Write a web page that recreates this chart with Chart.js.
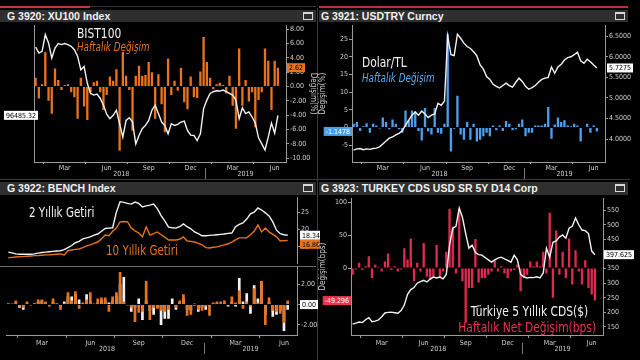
<!DOCTYPE html>
<html>
<head>
<meta charset="utf-8">
<script src="https://cdn.jsdelivr.net/npm/chart.js@4.4.1/dist/chart.umd.min.js"></script>
<style>
  html, body { margin: 0; padding: 0; background: #000; }
  #wrap { position: relative; width: 640px; height: 360px; overflow: hidden; background: #000;
          font-family: 'Liberation Sans Narrow', 'DejaVu Sans Condensed', 'Liberation Sans', sans-serif; }
  canvas { position: absolute; }
  .hdr { position: absolute; height: 12px; background: #2f2f2f; color: #f0f0f0; white-space: nowrap;
         font: bold 10.5px 'Liberation Sans', Arial, sans-serif; line-height: 12px; box-sizing: border-box; }
  .hdr .ico { position: absolute; right: 3px; top: 2px; width: 8px; height: 5px; border: 1px solid #d8d8d8; border-top-width: 2px; }
  .lbl { position: absolute; white-space: nowrap; line-height: 1; transform: translateY(-50%) scaleX(0.85);
         transform-origin: left center; z-index: 5; }
  .lbl.r { transform-origin: right center; }
  .bar { position: absolute; }
</style>
</head>
<body>
<div id="wrap">
  <div class="bar" style="left:0;top:6px;width:90px;height:2px;background:#c23a3a"></div>
  <div class="bar" style="left:90px;top:6px;width:226px;height:1px;background:#333"></div>
  <div class="bar" style="left:319px;top:6px;width:309px;height:2px;background:#b8323e"></div>
  <div class="bar" style="left:317px;top:8px;width:1px;height:352px;background:#3a3a3a"></div>
  <div class="bar" style="left:0;top:179px;width:630px;height:1px;background:#3a3a3a"></div>
  <div class="bar" style="left:0;top:266px;width:316px;height:1px;background:#6a6a6a"></div>

  <div class="hdr" style="left:0;top:10px;width:316px;padding-left:7px">G 3920: XU100 Index<span class="ico"></span></div>
  <div class="hdr" style="left:319px;top:10px;width:309px;padding-left:2px">G 3921: USDTRY Curncy<span class="ico"></span></div>
  <div class="hdr" style="left:0;top:182px;width:316px;height:13px;line-height:13px;padding-left:7px">G 3922: BENCH Index<span class="ico"></span></div>
  <div class="hdr" style="left:319px;top:182px;width:309px;height:13px;line-height:13px;padding-left:2px">G 3923: TURKEY CDS USD SR 5Y D14 Corp<span class="ico"></span></div>

  <canvas id="c1" width="318" height="160" style="left:0;top:20px"></canvas>
  <canvas id="c2" width="322" height="160" style="left:318px;top:20px"></canvas>
  <canvas id="c3a" width="320" height="77" style="left:0;top:192px"></canvas>
  <canvas id="c3b" width="320" height="98" style="left:0;top:262px"></canvas>
  <canvas id="c4" width="322" height="167" style="left:318px;top:193px"></canvas>

  <div class="lbl" style="left:77px;top:33px;font-size:14px;color:#f4f4f4">BIST100</div>
  <div class="lbl" style="left:77px;top:48px;font-size:11.5px;font-style:italic;color:#e8731c">Haftalık Değişim</div>
  <div class="lbl" style="left:362px;top:62px;font-size:14px;color:#f4f4f4">Dolar/TL</div>
  <div class="lbl" style="left:362px;top:79px;font-size:11.5px;font-style:italic;color:#5aa8f0">Haftalık Değişim</div>
  <div class="lbl" style="left:29px;top:213px;font-size:13.5px;color:#f4f4f4">2 Yıllık Getiri</div>
  <div class="lbl" style="left:106px;top:251px;font-size:13.5px;color:#e8731c">10 Yıllık Getiri</div>
  <div class="lbl r" style="right:52px;top:311px;font-size:14px;color:#f4f4f4">Türkiye 5 Yıllık CDS($)</div>
  <div class="lbl r" style="right:44px;top:327px;font-size:14px;color:#e8364f">Haftalık Net Değişim(bps)</div>
</div>

<script>
// weekly observations, Dec 2017 - Jun 2019 (+2 empty weeks at the right edge)
const weekCount = 78;
const firstWeek = Date.UTC(2017, 11, 29);
const weeks = [];
for (let i = 0; i < weekCount; i++) {
    weeks.push(new Date(firstWeek + i * 7 * 86400000).toISOString().slice(0, 10));
}
const monthTicks = [['2018-03-01', 'Mar'], ['2018-06-01', 'Jun'], ['2018-09-01', 'Sep'],
                    ['2018-12-01', 'Dec'], ['2019-03-01', 'Mar'], ['2019-06-01', 'Jun']];
const yearTicks = ['2018', '2019'];

// G 3920 - BIST100 level and weekly % change
const bist100 = [116800, 115000, 115500, 120500, 118000, 113500, 116500, 117800, 117500, 117800,
    117500, 117000, 116000, 114000, 110000, 111000, 106000, 103000, 102500, 102800,
    101500, 99500, 96800, 95500, 96500, 98000, 94000, 90000, 95000, 95800,
    94500, 88000, 90500, 92500, 93500, 95000, 98000, 99500, 97000, 94500,
    93500, 91000, 94000, 93500, 93800, 94500, 94800, 92000, 90600, 90500,
    89000, 91000, 98500, 101000, 103000, 103500, 103800, 103700, 104000, 103500,
    103000, 102500, 101000, 95500, 98700, 97000, 97500, 96000, 94200, 89800,
    88000, 86200, 90000, 94200, 91200, 96485.32];
const bistChg = [1.2, -1.7, 0.3, 4.8, -2.0, -3.8, 2.5, 0.9, -0.5, 0.2,
    0.3, -0.8, -1.5, -4.5, 1.2, -2.8, -4.7, -0.8, 0.6, 0.8,
    -0.8, -3.3, -1.2, 1.4, 0.8, 2.4, -9.0, 4.8, 1.5, -0.5,
    -6.2, 1.5, 2.9, 1.5, 1.6, 3.4, 2.0, -4.5, 1.7, -2.5,
    -6.4, 3.9, -1.2, 0.8, -0.6, 2.6, -2.2, -3.2, 1.4, -1.5,
    -1.6, 2.1, 6.9, 3.4, 1.2, -0.4, 0.3, 0.5, 0.2, -1.0,
    1.5, -2.7, -5.9, 5.3, -2.7, 0.9, -2.1, -0.8, -5.7, -1.9,
    -0.8, 5.3, 3.6, -3.3, 3.6, 2.62];

// G 3921 - USDTRY and weekly % change
const usdtry = [3.73, 3.76, 3.77, 3.74, 3.76, 3.75, 3.77, 3.78, 3.81, 3.88,
    3.95, 4.02, 4.05, 4.10, 4.14, 4.20, 4.34, 4.46, 4.58, 4.66,
    4.58, 4.68, 4.61, 4.52, 4.58, 4.61, 4.87, 4.82, 4.92, 6.50,
    6.05, 6.03, 6.55, 6.45, 6.33, 6.25, 6.20, 6.12, 6.02, 5.80,
    5.70, 5.52, 5.45, 5.33, 5.28, 5.24, 5.30, 5.36, 5.30, 5.26,
    5.38, 5.48, 5.40, 5.28, 5.21, 5.25, 5.30, 5.38, 5.45, 5.48,
    5.50, 5.75, 5.60, 5.75, 5.82, 5.92, 5.98, 6.00, 6.05, 6.11,
    5.90, 5.84, 5.94, 5.88, 5.80, 5.7275];
const usdtryChg = [1.0, 1.5, -1.0, 0.3, 1.2, -1.5, 1.0, 0.5, -0.3, 2.8,
    1.5, -0.5, 2.2, 1.0, -0.5, -1.5, 4.8, 2.0, 4.8, 4.5,
    -1.0, -3.7, 5.5, -1.2, -2.0, 5.5, -1.5, -1.8, 1.0, 26.5,
    -6.8, -0.4, 9.0, -2.0, -3.5, 1.5, -3.5, 1.0, -4.0, -3.5,
    -2.5, -1.5, -2.5, 0.5, -0.8, 0.5, -1.0, 1.8, 1.0, -0.8,
    -0.5, 1.0, 2.2, -2.5, -1.5, -1.5, 0.5, 0.5, 0.5, 1.0,
    5.8, -3.2, 0.8, 2.8, 1.5, 2.0, 0.5, 0.3, 1.0, 0.5,
    -4.0, -0.2, 1.0, -1.5, 0.5, -1.1478];

// G 3922 - 2y / 10y benchmark yields and weekly changes
const tr2y = [13.5, 13.3, 13.0, 12.9, 12.9, 12.9, 12.9, 13.0, 13.2, 13.4,
    13.5, 13.6, 13.7, 13.8, 13.9, 14.2, 14.8, 15.4, 16.2, 16.6,
    17.3, 17.6, 17.9, 18.4, 18.7, 19.5, 20.3, 20.4, 20.5, 25.0,
    28.0, 27.8, 27.5, 27.3, 27.9, 27.5, 26.5, 26.8, 27.0, 27.3,
    26.0, 24.0, 22.5, 20.7, 20.5, 20.4, 20.8, 21.6, 20.8, 20.2,
    19.3, 18.8, 18.2, 18.2, 18.3, 18.4, 18.5, 18.6, 18.7, 18.9,
    19.0, 20.8, 21.5, 21.9, 23.0, 24.5, 25.0, 26.2, 25.6, 24.8,
    23.9, 22.2, 19.8, 18.8, 18.5, 18.34];
const tr10y = [11.9, 12.0, 12.1, 12.2, 12.2, 12.3, 12.4, 12.5, 12.5, 12.6,
    12.7, 12.7, 12.8, 12.9, 13.0, 12.7, 13.9, 14.1, 14.3, 14.4,
    14.8, 15.3, 15.6, 16.0, 16.4, 17.3, 18.4, 18.2, 19.5, 20.4,
    22.2, 22.3, 22.2, 20.4, 19.6, 19.0, 17.9, 20.7, 18.4, 18.8,
    19.3, 18.5, 17.8, 17.0, 17.0, 17.0, 17.2, 17.9, 16.7, 16.6,
    16.4, 16.0, 15.6, 14.8, 14.7, 14.9, 15.0, 15.3, 15.6, 15.9,
    16.4, 17.0, 17.6, 17.6, 17.6, 18.5, 19.5, 21.3, 19.3, 20.4,
    19.3, 18.6, 17.9, 16.7, 16.8, 16.86];
const tr2yChg = [0.1, 0.0, 0.2, -0.3, -0.5, 0.1, 0.0, 0.1, 0.3, 0.4,
    0.2, -0.1, 0.3, 0.1, -0.2, 0.3, 0.8, 0.8, 1.0, 0.5,
    0.1, 1.0, 0.3, 0.0, 0.2, 0.5, 0.4, 0.2, 0.4, 0.9,
    2.0, 2.7, 0.0, -0.7, -0.3, 0.6, -1.5, 0.4, -0.6, -1.0,
    -0.3, -2.0, -1.4, -1.4, 0.6, -0.5, 0.2, 0.6, -0.5, -0.6,
    -0.1, -0.7, -0.3, -0.5, -0.2, 0.1, 0.1, 0.0, 0.1, -0.2,
    0.3, -0.2, 2.6, 0.3, 1.1, -0.9, 1.9, 0.6, 2.3, -1.0,
    0.2, -1.2, -1.0, -0.6, -2.6, -0.5];
const tr10yChg = [0.0, 0.1, 0.4, -0.2, -0.3, 0.3, -0.1, 0.1, 0.5, 0.5,
    0.3, -0.2, 0.6, 0.0, -0.5, 0.1, 1.2, 0.4, 1.3, -0.4,
    0.2, 0.5, 1.2, 0.1, 0.6, 0.7, 0.7, -0.7, 0.8, 1.2,
    3.2, 0.3, -0.1, -0.3, -1.7, -0.8, -0.7, 2.3, -1.5, -0.3,
    -0.4, -0.6, -0.7, -0.5, 0.0, -0.3, 0.4, 1.0, -1.1, -1.0,
    0.1, -0.5, -0.6, -0.2, -1.1, 0.2, 0.3, 0.3, 0.4, -0.1,
    0.8, 0.2, 1.4, -0.4, 0.3, -0.2, 1.6, 0.2, 2.3, -2.0,
    0.7, -0.6, -0.7, -0.9, -1.8, 0.4];

// G 3923 - Turkey 5y CDS and weekly net change (bps)
const cds = [160, 163, 167, 165, 175, 182, 168, 170, 174, 185,
    198, 200, 201, 199, 197, 206, 225, 262, 278, 285,
    300, 305, 310, 304, 314, 321, 318, 321, 315, 330,
    430, 488, 495, 557, 525, 470, 420, 430, 405, 398,
    396, 388, 380, 372, 380, 386, 389, 383, 378, 372,
    396, 380, 330, 322, 318, 320, 319, 322, 318, 335,
    420, 389, 440, 445, 458, 465, 454, 488, 495, 523,
    500, 482, 480, 470, 410, 397.625];
const cdsChg = [-10, -2, 8, -3, 3, 18, -15, 5, 2, -5,
    10, 22, -3, 3, -5, -2, 30, 13, 45, -20,
    8, -5, 38, -13, -18, -13, 35, -15, -5, 25,
    90, 63, -8, 90, -20, -83, -30, -30, 44, -22,
    -15, -15, -10, -5, 12, -5, 3, -8, -15, -5,
    -3, 5, -35, -15, -10, 10, 3, 10, 3, 25,
    -8, 84, -45, 57, -10, 25, -15, 45, -25, 27,
    -5, -25, 12, -30, -40, -49.296];

const last = arr => arr[arr.length - 1];

// month tick at the week closest to the 1st of the month
const monthAt = {};
monthTicks.forEach(([d, name]) => {
    const t = Date.parse(d);
    let best = 0;
    weeks.forEach((w, i) => {
        if (Math.abs(Date.parse(w) - t) < Math.abs(Date.parse(weeks[best]) - t)) best = i;
    });
    monthAt[best] = name;
});
const yearSpans = yearTicks.map(y => {
    const idx = weeks.map((w, i) => w.startsWith(y) ? i : -1).filter(i => i >= 0);
    return { year: y, first: idx[0], last: idx[idx.length - 1] };
});

const fontFam = "'Liberation Sans Narrow', 'DejaVu Sans Condensed', 'Liberation Sans', sans-serif";
const tickFont = { family: fontFam, size: 7 };
const axisGray = '#9a9a9a';
const tickGray = '#cfcfcf';
const orange = '#e8731c', blue = '#4b9fec', red = '#de2a4e', white = '#f2f2f2';

Chart.defaults.animation = false;
Chart.defaults.responsive = false;
Chart.defaults.plugins.legend.display = false;
Chart.defaults.plugins.tooltip.enabled = false;
Chart.defaults.elements.point.radius = 0;

function onlySteps(step, lo) {
    return scale => {
        scale.ticks = scale.ticks.filter(t => {
            const k = t.value / step;
            return Math.abs(k - Math.round(k)) < 1e-6 && t.value >= scale.min && t.value <= scale.max &&
                (lo === undefined || t.value >= lo);
        });
    };
}

function yAxis(pos, min, max, step, fmt, width, title, lo) {
    return {
        position: pos, min: min, max: max,
        grid: { drawOnChartArea: false, drawTicks: true, tickLength: 3, color: axisGray },
        border: { display: true, color: axisGray },
        ticks: { stepSize: step, includeBounds: false, maxTicksLimit: 40, padding: 1, color: tickGray,
                 font: tickFont, callback: fmt },
        title: title ? { display: true, text: title, color: tickGray, font: { family: fontFam, size: 8 },
                         padding: { top: 0, bottom: 0 } } : { display: false },
        afterBuildTicks: onlySteps(step, lo),
        afterFit: s => { s.width = width; }
    };
}

function timeAxis(show, tickLen, pad, height) {
    return {
        type: 'category', offset: true, display: show,
        grid: { drawOnChartArea: false, drawTicks: true, tickLength: tickLen, color: axisGray },
        border: { display: true, color: axisGray },
        ticks: { autoSkip: false, maxRotation: 0, padding: pad, color: tickGray, font: tickFont,
                 callback: (v, i) => monthAt[i] === undefined ? null : monthAt[i] },
        afterFit: s => { s.height = height; }
    };
}

// value tags at the axis edge, placed through the axis scale
const tagPlugin = {
    id: 'tags',
    afterDraw(chart, args, opts) {
        const ctx = chart.ctx;
        const used = {};
        ctx.save();
        ctx.font = '7px ' + fontFam;
        ctx.textBaseline = 'middle';
        ctx.textAlign = 'left';
        (opts.items || []).forEach(t => {
            const s = chart.scales[t.axis];
            const h = 9;
            const w = ctx.measureText(t.text).width + 4;
            let top = s.getPixelForValue(t.value) - h / 2;
            if (used[s.position] !== undefined && top < used[s.position]) top = used[s.position];
            used[s.position] = top + h;
            const x = s.position === 'left' ? s.right + (t.nudge || 0) - w : s.left + (t.nudge || 0);
            ctx.fillStyle = t.bg;
            ctx.fillRect(x, top, w, h);
            ctx.fillStyle = t.fg;
            ctx.fillText(t.text, x + 2, top + h / 2 + 0.5);
        });
        ctx.restore();
    }
};

// year labels under the month ticks
const yearPlugin = {
    id: 'years',
    afterDraw(chart, args, opts) {
        if (!opts.gap) return;
        const x = chart.scales.x, ctx = chart.ctx, y0 = chart.chartArea.bottom + opts.gap;
        ctx.save();
        ctx.font = '7px ' + fontFam;
        ctx.fillStyle = tickGray;
        ctx.textAlign = 'center';
        ctx.textBaseline = 'middle';
        yearSpans.forEach(sp => ctx.fillText(sp.year, x.getPixelForValue((sp.first + sp.last) / 2), y0));
        ctx.strokeStyle = '#777';
        ctx.lineWidth = 1;
        yearSpans.slice(1).forEach(sp => {
            const px = Math.round(x.getPixelForValue(sp.first - 0.5)) + 0.5;
            ctx.beginPath();
            ctx.moveTo(px, y0 - 6);
            ctx.lineTo(px, y0 + 5);
            ctx.stroke();
        });
        ctx.restore();
    }
};

const lineSet = (data, axis, color) => ({
    type: 'line', data: data, yAxisID: axis, borderColor: color, borderWidth: 1.4,
    pointRadius: 0, tension: 0, order: 0
});
const barSet = (data, axis, color, order) => ({
    type: 'bar', data: data, yAxisID: axis, backgroundColor: color,
    barPercentage: 0.72, categoryPercentage: 1, order: order === undefined ? 1 : order
});

// G 3920
new Chart(document.getElementById('c1'), {
    type: 'bar',
    data: { labels: weeks, datasets: [lineSet(bist100, 'yL', white), barSet(bistChg, 'yR', orange)] },
    options: {
        layout: { padding: { top: 5, left: 0, right: 0, bottom: 0 } },
        scales: {
            x: timeAxis(true, 2, 0, 18),
            yL: yAxis('left', 82627, 123263, 5000, v => v >= 100000 ? (v / 1e6) + 'M' : String(v), 34),
            yR: yAxis('right', -10.558, 8.558, 2, v => v.toFixed(2), 32, 'Değişim(%)')
        },
        plugins: {
            years: { gap: 12 },
            tags: { items: [
                { axis: 'yL', value: last(bist100), text: last(bist100).toFixed(2), bg: '#fff', fg: '#000', nudge: 4 },
                { axis: 'yR', value: last(bistChg), text: last(bistChg).toFixed(2), bg: orange, fg: '#000', nudge: 1 }
            ] }
        }
    },
    plugins: [tagPlugin, yearPlugin]
});

// G 3921
new Chart(document.getElementById('c2'), {
    type: 'bar',
    data: { labels: weeks, datasets: [lineSet(usdtry, 'yR', white), barSet(usdtryChg, 'yL', blue)] },
    options: {
        layout: { padding: { top: 5, left: 0, right: 0, bottom: 0 } },
        scales: {
            x: timeAxis(true, 2, 0, 18),
            yL: yAxis('left', -9.81, 28.96, 5, v => String(v), 34, 'Değişim(%)'),
            yR: yAxis('right', 3.442, 6.767, 0.5, v => v.toFixed(4), 35, undefined, 4)
        },
        plugins: {
            years: { gap: 12 },
            tags: { items: [
                { axis: 'yL', value: last(usdtryChg), text: last(usdtryChg).toFixed(4), bg: blue, fg: '#fff' },
                { axis: 'yR', value: last(usdtry), text: last(usdtry).toFixed(4), bg: '#fff', fg: '#000', nudge: 2 }
            ] }
        }
    },
    plugins: [tagPlugin, yearPlugin]
});

// G 3922 - top: yields
new Chart(document.getElementById('c3a'), {
    type: 'line',
    data: { labels: weeks, datasets: [lineSet(tr2y, 'yR', white), lineSet(tr10y, 'yR', orange)] },
    options: {
        layout: { padding: { top: 5, left: 6.5, right: 0, bottom: 5 } },
        scales: {
            x: timeAxis(false, 0, 0, 0),
            yR: yAxis('right', 10.14, 29.29, 5, v => String(v), 23)
        },
        plugins: {
            tags: { items: [
                { axis: 'yR', value: last(tr2y), text: last(tr2y).toFixed(2), bg: '#fff', fg: '#000', nudge: 3 },
                { axis: 'yR', value: last(tr10y), text: last(tr10y).toFixed(2), bg: orange, fg: '#000', nudge: 3 }
            ] }
        }
    },
    plugins: [tagPlugin]
});

// G 3922 - bottom: weekly changes
new Chart(document.getElementById('c3b'), {
    type: 'bar',
    data: { labels: weeks, datasets: [
        Object.assign(barSet(tr10yChg, 'yR', orange, 0), { grouped: false }),
        Object.assign(barSet(tr2yChg, 'yR', white, 1), { grouped: false })
    ] },
    options: {
        layout: { padding: { top: 5, left: 6.5, right: 0, bottom: 0 } },
        scales: {
            x: timeAxis(true, 3, 1, 25),
            yR: yAxis('right', -2.98, 3.66, 2, v => v.toFixed(2), 23)
        },
        plugins: {
            years: { gap: 14 },
            tags: { items: [
                { axis: 'yR', value: 0, text: (0).toFixed(2), bg: '#fff', fg: '#000', nudge: 3 }
            ] }
        }
    },
    plugins: [tagPlugin, yearPlugin]
});

// G 3923
new Chart(document.getElementById('c4'), {
    type: 'bar',
    data: { labels: weeks, datasets: [lineSet(cds, 'yR', white), barSet(cdsChg, 'yL', red)] },
    options: {
        layout: { padding: { top: 5, left: 0, right: 0, bottom: 0 } },
        scales: {
            x: timeAxis(true, 3, 1, 25),
            yL: yAxis('left', -101.5, 106.1, 50, v => String(v), 33, 'Değişim(bps)', -50),
            yR: yAxis('right', 122.6, 591, 50, v => String(v), 37)
        },
        plugins: {
            years: { gap: 14 },
            tags: { items: [
                { axis: 'yL', value: last(cdsChg), text: last(cdsChg).toFixed(3), bg: '#e8364f', fg: '#fff' },
                { axis: 'yR', value: last(cds), text: last(cds).toFixed(3), bg: '#fff', fg: '#000', nudge: 1 }
            ] }
        }
    },
    plugins: [tagPlugin, yearPlugin]
});
</script>
</body>
</html>
